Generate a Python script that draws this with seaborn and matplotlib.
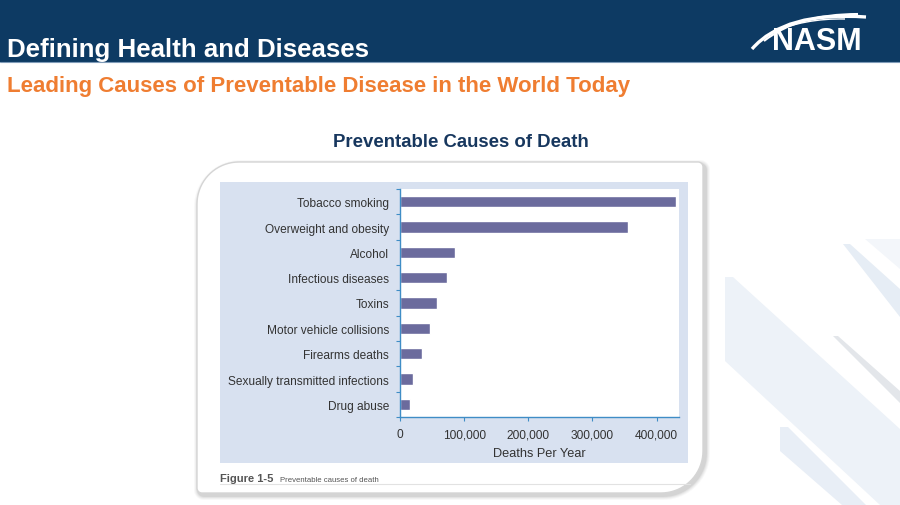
import numpy as np
import pandas as pd
import matplotlib
matplotlib.use("Agg")
import matplotlib.pyplot as plt
import seaborn as sns
from matplotlib.patches import Rectangle, Polygon, PathPatch
from matplotlib.path import Path
from matplotlib.ticker import FuncFormatter, FixedLocator

# ---------------- data ----------------
causes = ["Tobacco smoking", "Overweight and obesity", "Alcohol", "Infectious diseases",
          "Toxins", "Motor vehicle collisions", "Firearms deaths",
          "Sexually transmitted infections", "Drug abuse"]
deaths = [430000, 355000, 85000, 73000, 58000, 47000, 35000, 20000, 15000]
x_ticks = [0, 100000, 200000, 300000, 400000]

header_title = "Defining Health and Diseases"
sub_title = "Leading Causes of Preventable Disease in the World Today"
chart_title = "Preventable Causes of Death"
x_label = "Deaths Per Year"

# ---------------- style ----------------
sns.set_theme(style="white")
plt.rcParams["font.family"] = ["Liberation Sans", "DejaVu Sans"]

W, H = 900, 506
fig = plt.figure(figsize=(9, 5.06), dpi=100)
fig.patch.set_facecolor("white")

bg = fig.add_axes([0, 0, 1, 1], zorder=0)
bg.set_xlim(0, W)
bg.set_ylim(H, 0)
bg.axis("off")

NAVY = "#0d3a63"
ORANGE = "#ef7d31"
PANEL = "#d8e1f0"
BAR = "#6b6b9d"
AXBLUE = "#3f8dc6"

# decorative light stripes on the right
stripes = [
    [(725, 278), (733, 278), (900, 430), (900, 506), (880, 506), (725, 362)],
    [(843, 245), (850, 245), (900, 290), (900, 318)],
    [(833, 337), (838, 337), (900, 392), (900, 404)],
    [(780, 428), (788, 428), (866, 506), (842, 506), (780, 452)],
    [(865, 240), (900, 240), (900, 270)],
]
stripe_cols = ["#edf2f8", "#e6edf5", "#e3e6ea", "#e8eef6", "#f3f6fa"]
for pts, c in zip(stripes, stripe_cols):
    bg.add_patch(Polygon(pts, closed=True, facecolor=c, edgecolor="none", zorder=0))

# header bar
bg.add_patch(Rectangle((0, 0), W, 63, facecolor=NAVY, edgecolor="none", zorder=1))
bg.plot([0, W], [63, 63], color="#7f9bb8", lw=0.8, zorder=1)
bg.text(7, 57, header_title, color="white", fontsize=18.6, fontweight="bold",
        va="baseline", ha="left", zorder=3)

# NASM logo
bg.text(772, 50, "NASM", color="white", fontsize=22, fontweight="bold",
        va="baseline", ha="left", zorder=3)
for (p0, p1, p2, lw) in [((752, 50), (785, 12), (866, 18), 2.4),
                         ((764, 42), (798, 15), (858, 15), 1.5),
                         ((770, 34), (805, 19), (845, 20), 1.0)]:
    path = Path([p0, p1, p2], [Path.MOVETO, Path.CURVE3, Path.CURVE3])
    bg.add_patch(PathPatch(path, facecolor="none", edgecolor="white", lw=lw, zorder=3))

bg.text(7, 92, sub_title, color=ORANGE, fontsize=16, fontweight="bold",
        va="baseline", ha="left", zorder=3)
bg.text(461, 147, chart_title, color="#17375e", fontsize=13.4, fontweight="bold",
        va="baseline", ha="center", zorder=3)


def card_path(x0, y0, x1, y1, r_big, r_small):
    pts = []
    def arc(cx, cy, r, a0, a1):
        for a in np.linspace(a0, a1, 20):
            pts.append((cx + r * np.cos(a), cy + r * np.sin(a)))
    arc(x0 + r_big, y0 + r_big, r_big, np.pi, 1.5 * np.pi)           # top-left
    arc(x1 - r_small, y0 + r_small, r_small, 1.5 * np.pi, 2 * np.pi)  # top-right
    arc(x1 - r_big, y1 - r_big, r_big, 0, 0.5 * np.pi)               # bottom-right
    arc(x0 + r_small, y1 - r_small, r_small, 0.5 * np.pi, np.pi)     # bottom-left
    return pts

# card shadow
for i, a in enumerate([0.04, 0.06, 0.08, 0.11]):
    g = 5 - i
    pts = card_path(197 - g + 2, 163 - g + 3, 703 + g + 2, 494 + g + 2, 42 + g, 5 + g)
    bg.add_patch(Polygon(pts, closed=True, facecolor="#606060", alpha=a,
                         edgecolor="none", zorder=1))
bg.add_patch(Polygon(card_path(197, 163, 703, 494, 42, 5), closed=True,
                     facecolor="white", edgecolor="#d5d5d5", lw=1.0, zorder=1))

# light blue panel
bg.add_patch(Rectangle((220, 183), 468, 281, facecolor=PANEL, edgecolor="none", zorder=1))
bg.plot([220, 690], [485, 485], color="#e2e2e2", lw=0.8, zorder=1)
bg.text(220, 482, "Figure 1-5", color="#555555", fontsize=8, fontweight="bold",
        va="baseline", ha="left", zorder=3)
bg.text(280, 482, "Preventable causes of death", color="#555555", fontsize=5.6,
        va="baseline", ha="left", zorder=3)

# ---------------- chart ----------------
ax = fig.add_axes([400 / W, 1 - 418 / H, (679 - 400) / W, (418 - 190) / H], zorder=2)
df = pd.DataFrame({"cause": causes, "deaths": deaths})
sns.barplot(data=df, x="deaths", y="cause", orient="h", color=BAR, saturation=1,
            width=0.44, ax=ax)
ax.set_facecolor("white")
ax.set_xlim(0, 435000)
ax.set_ylim(len(causes) - 0.5, -0.5)

for s in ["top", "right"]:
    ax.spines[s].set_visible(False)
for s in ["left", "bottom"]:
    ax.spines[s].set_color(AXBLUE)
    ax.spines[s].set_linewidth(1.0)

ax.set_xticks(x_ticks)
ax.xaxis.set_major_formatter(FuncFormatter(lambda v, p: f"{int(v):,}"))
ax.tick_params(axis="x", which="major", direction="out", length=3, width=0.8,
               color=AXBLUE, pad=5, labelsize=8.6, labelcolor="#333333", bottom=True)
ax.yaxis.set_minor_locator(FixedLocator(np.arange(-0.5, len(causes), 1.0)))
ax.tick_params(axis="y", which="major", length=0, pad=8, labelsize=8.6,
               labelcolor="#333333", left=True)
ax.tick_params(axis="y", which="minor", direction="out", length=3, width=0.8,
               color=AXBLUE, left=True)
ax.set_ylabel("")
ax.set_xlabel(x_label, fontsize=9.2, color="#333333", labelpad=5)

fig.savefig("out.png", dpi=100, facecolor=fig.get_facecolor())
